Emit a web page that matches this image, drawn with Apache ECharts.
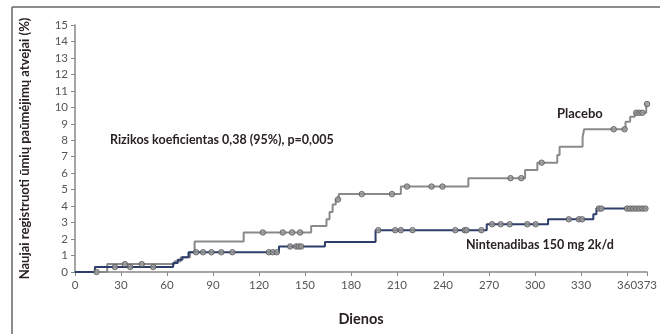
<!DOCTYPE html>
<html><head><meta charset="utf-8">
<script src="https://cdn.jsdelivr.net/npm/echarts@6/dist/echarts.min.js"></script>
<style>html,body{margin:0;padding:0;background:#fff}#c{width:660px;height:334px}</style>
</head><body><div id="c"></div>
<script>
// Step data [day, cumulative %]
const placeboSteps = [[0,0],[21,0.48],[65,0.65],[69,0.9],[75,1.2],[78,1.85],[110,2.4],[154,2.8],[164,3.2],[166,3.65],[168,4.1],[170,4.4],[172,4.73],[212.5,5.19],[256.5,5.7],[293.5,6.2],[301.5,6.64],[314.5,7.1],[316,7.6],[331,8.18],[332,8.67],[359,9.13],[362,9.43],[365,9.67],[372.5,10.2],[373,10.2]];
const nintSteps = [[0,0],[13,0.3],[64,0.55],[67,0.75],[70,0.9],[74,1.2],[133,1.55],[163,1.82],[196,2.54],[268.5,2.9],[308.5,3.2],[338,3.5],[340,3.85],[373,3.85]];
// Censoring days
const placeboCensor = [14,32.5,43.5,122.5,135.5,141.6,146.8,171.5,187,206.7,216.5,232.5,239.6,284,291,304.3,351.3,358.4,366,368,370,373];
const nintCensor = [26,36,51,79,83.5,89,95.4,102.6,126.4,129,131.6,140.3,144.2,145.9,147.5,197.8,208.8,212.5,220.1,248,254,255.3,265,272,277.6,283.5,294.9,300.4,322,328.6,330.7,341.6,343.3,360,362,364,366,368,370,372];
const xTicks = [0,30,60,90,120,150,180,210,240,270,300,330,360,373];
const labelHR = 'Rizikos koeficientas 0,38 (95%), p=0,005';
const labelPlacebo = 'Placebo';
const labelNint = 'Nintenadibas 150 mg 2k/d';

function levelAt(steps, d){ let v=0; for(const s of steps){ if(s[0]<=d) v=s[1]; } return v; }
const font = 'Lato, "Open Sans", sans-serif';
const chart = echarts.init(document.getElementById('c'));
const gray='#8a8a8a', blue='#2e3d6b';
chart.setOption({
  animation:false,
  grid:{left:75,right:12,top:25,bottom:62},
  xAxis:{type:'value',min:0,max:373,
    name:'Dienos',nameLocation:'middle',nameGap:40,
    nameTextStyle:{fontFamily:font,fontWeight:'bold',fontSize:14.5,color:'#2a2222'},
    axisLine:{lineStyle:{color:'#888',width:1.5}},
    axisTick:{show:true,length:4,lineStyle:{color:'#888'},customValues:xTicks},
    axisLabel:{customValues:xTicks,fontFamily:font,fontSize:11.5,color:'#555',margin:7},
    splitLine:{show:false}},
  yAxis:{type:'value',min:0,max:15,interval:1,
    name:'Naujai registruoti ūmių paūmėjimų atvejai (%)',nameLocation:'middle',nameGap:44,
    nameTextStyle:{fontFamily:font,fontWeight:'bold',fontSize:13,color:'#2a2222'},
    axisLine:{show:true,lineStyle:{color:'#888',width:1.5}},
    axisTick:{show:true,length:4,lineStyle:{color:'#888'}},
    axisLabel:{fontFamily:font,fontSize:11.5,color:'#555',margin:7},
    splitLine:{show:false}},
  series:[
    {type:'line',step:'end',data:placeboSteps,showSymbol:false,lineStyle:{color:gray,width:2},z:2},
    {type:'line',step:'end',data:nintSteps,showSymbol:false,lineStyle:{color:blue,width:2},z:3},
    {type:'scatter',data:placeboCensor.map(d=>[d,levelAt(placeboSteps,d)]),symbol:'circle',symbolSize:5.5,
      itemStyle:{color:'#999',borderColor:'#555',borderWidth:1},z:4},
    {type:'scatter',data:nintCensor.map(d=>[d,levelAt(nintSteps,d)]),symbol:'circle',symbolSize:5.5,
      itemStyle:{color:'#999',borderColor:'#555',borderWidth:1},z:4}
  ],
  graphic:[
    {type:'line',shape:{x1:12,y1:7,x2:12,y2:334},style:{stroke:'#666',lineWidth:1.5}},
    {type:'line',shape:{x1:12,y1:7,x2:660,y2:7},style:{stroke:'#666',lineWidth:1.5}},
    {type:'text',left:110,top:133,style:{text:labelHR,font:'bold 12.5px '+font,fill:'#2a2222'}},
    {type:'text',left:557,top:107,style:{text:labelPlacebo,font:'bold 13px '+font,fill:'#2a2222'}},
    {type:'text',left:466,top:238,style:{text:labelNint,font:'bold 12.5px '+font,fill:'#2a2222'}}
  ]
});
</script></body></html>
